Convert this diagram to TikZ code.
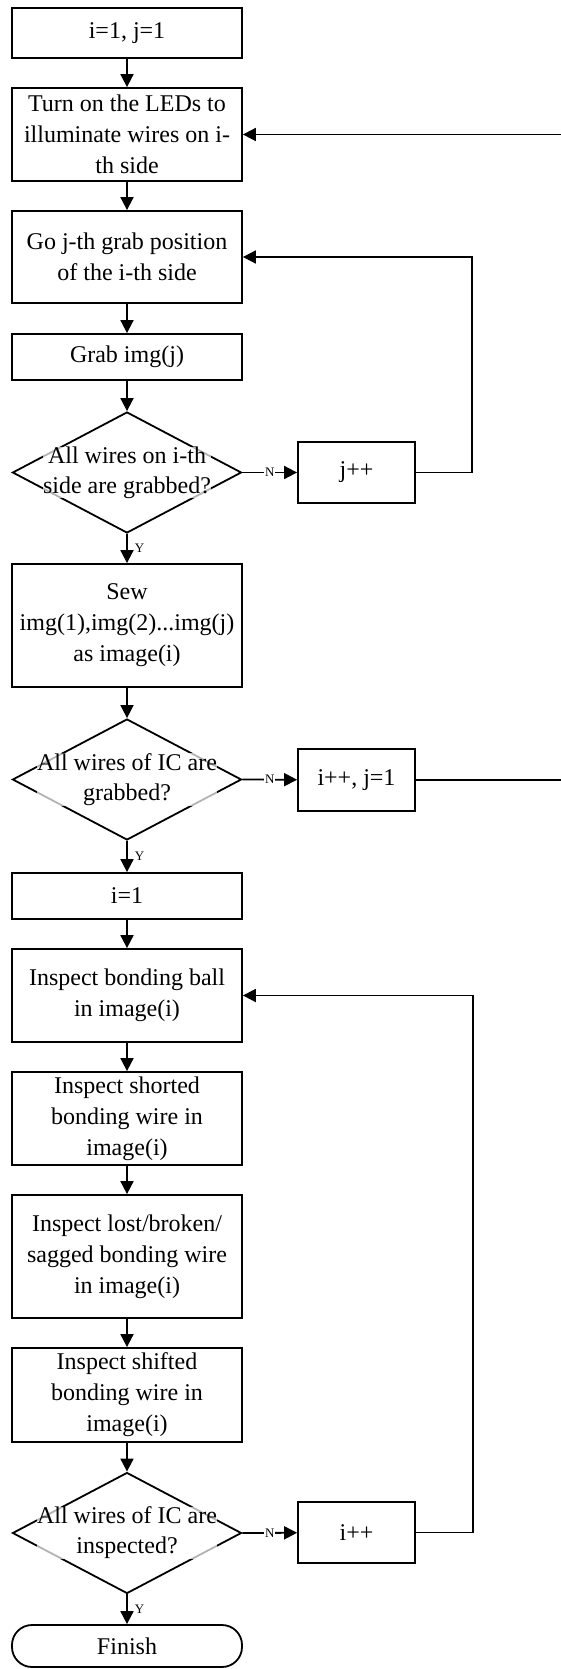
\documentclass[tikz,border=0pt]{standalone}
\usepackage{fontspec}
\setmainfont{Liberation Serif}
\usetikzlibrary{shapes.geometric,arrows.meta}

\begin{document}
\begin{tikzpicture}[x=1pt, y=-1pt,
  font=\fontsize{24}{31}\selectfont,
  process/.style={draw, line width=1.8pt, minimum width=230pt, align=center, inner sep=0pt},
  smallbox/.style={draw, line width=1.8pt, minimum width=117pt, minimum height=61pt, inner sep=0pt},
  decision/.style={draw, diamond, line width=1.8pt, minimum width=229pt, minimum height=121pt, inner sep=0pt},
  terminal/.style={draw, line width=1.8pt, rounded corners=20pt, minimum width=230pt, minimum height=42pt, inner sep=0pt},
  qtext/.style={align=center, font=\fontsize{24}{30}\selectfont, fill=white, fill opacity=0.7, text opacity=1, inner sep=0pt},
  flow/.style={-{Triangle[length=13pt,width=13pt]}, line width=1.8pt},
  yn/.style={font=\fontsize{13}{15}\selectfont, inner sep=1pt}]
\useasboundingbox (0,0) rectangle (561,1669);
\clip (0,0) rectangle (561,1669);

% grabbing part
\node[process, minimum height=50pt] (init) at (127,33) {i=1, j=1};
\node[process, minimum height=93pt] (leds) at (127,134.5) {Turn on the LEDs to\\illuminate wires on i-\\th side};
\node[process, minimum height=92pt] (gopos) at (127,257) {Go j-th grab position\\of the i-th side};
\node[process, minimum height=46pt] (grab) at (127,357) {Grab img(j)};
\node[decision] (dec1) at (127,472.5) {};
\node[qtext] (dec1txt) at (dec1) {All wires on i-th\\side are grabbed?};
\node[smallbox] (jinc) at (356.5,472.5) {j++};
\node[process, minimum height=123pt] (sew) at (127,625.5) {Sew\\img(1),img(2)...img(j)\\as image(i)};
\node[decision] (dec2) at (127,779.5) {};
\node[qtext] (dec2txt) at (dec2) {All wires of IC are\\grabbed?};
\node[smallbox, minimum height=62pt] (iinc) at (356.5,780) {i++, j=1};

% inspecting part
\node[process, minimum height=46pt] (iset) at (127,896) {i=1};
\node[process, minimum height=93pt] (ball) at (127,995.5) {Inspect bonding ball\\in image(i)};
\node[process, minimum height=93pt] (short) at (127,1118.5) {Inspect shorted\\bonding wire in\\image(i)};
\node[process, minimum height=123pt] (lost) at (127,1256.5) {Inspect lost/broken/\\sagged bonding wire\\in image(i)};
\node[process, minimum height=94pt] (shift) at (127,1395) {Inspect shifted\\bonding wire in\\image(i)};
\node[decision] (dec3) at (127,1533) {};
\node[qtext] (dec3txt) at (dec3) {All wires of IC are\\inspected?};
\node[smallbox] (inext) at (356.5,1532.5) {i++};
\node[terminal] (finish) at (127,1646) {Finish};

% main flow
\draw[flow] (init) -- (leds);
\draw[flow] (leds) -- (gopos);
\draw[flow] (gopos) -- (grab);
\draw[flow] (grab) -- (dec1.north);
\draw[flow] (dec1.south) -- node[yn, right, xshift=6pt] {Y} (sew);
\draw[flow] (dec1.east) -- node[yn, fill=white] {N} (jinc);
\draw[flow] (sew) -- (dec2.north);
\draw[flow] (dec2.south) -- node[yn, right, xshift=6pt] {Y} (iset);
\draw[flow] (dec2.east) -- node[yn, fill=white] {N} (iinc);
\draw[flow] (iset) -- (ball);
\draw[flow] (ball) -- (short);
\draw[flow] (short) -- (lost);
\draw[flow] (lost) -- (shift);
\draw[flow] (shift) -- (dec3.north);
\draw[flow] (dec3.south) -- node[yn, right, xshift=6pt] {Y} (finish);
\draw[flow] (dec3.east) -- node[yn, fill=white] {N} (inext);

% loops back
\draw[flow] (jinc.east) -- ++(56,0) |- (gopos.east);
\draw[flow] (iinc.east) -- ++(180,0) |- (leds.east);
\draw[flow] (inext.east) -- ++(57,0) |- (ball.east);
\end{tikzpicture}
\end{document}
